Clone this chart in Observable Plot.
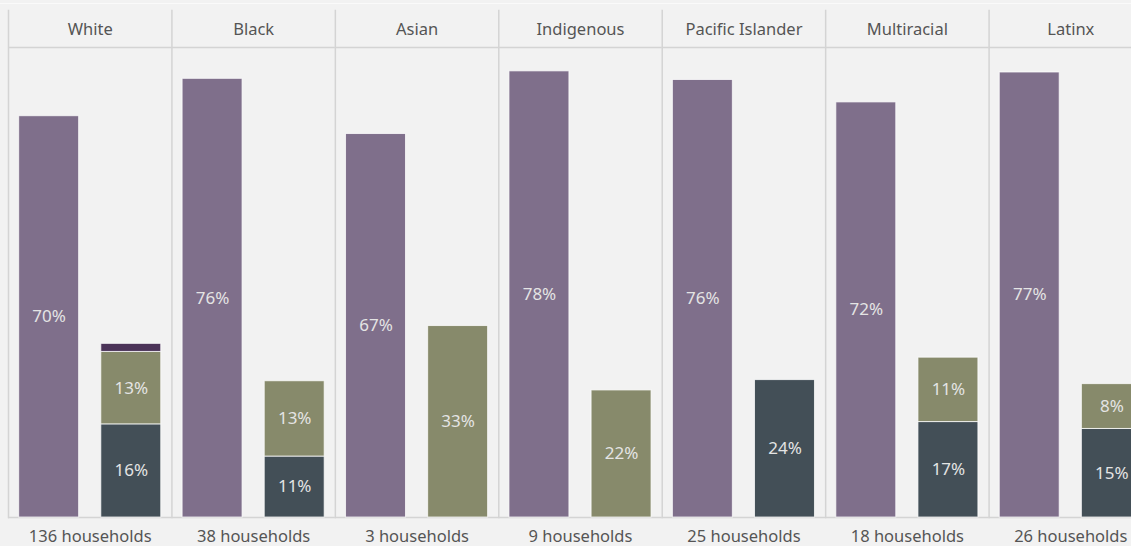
<!DOCTYPE html>
<html>
<head>
<meta charset="utf-8">
<script src="https://cdn.jsdelivr.net/npm/d3@7"></script>
<script src="https://cdn.jsdelivr.net/npm/@observablehq/plot@0.6"></script>
<style>
  html, body { margin: 0; padding: 0; background: #f2f2f2; }
  #wrap { position: relative; width: 1131px; height: 546px; overflow: hidden; background: #f2f2f2; }
  #wrap svg { max-width: none !important; height: 546px !important; display: block; }
  #topline { position: absolute; left: 0; top: 3px; width: 1131px; height: 1px; background: #fafafa; }
</style>
</head>
<body>
<div id="wrap"><div id="topline"></div></div>
<script>
// Categories
const groups = ["White", "Black", "Asian", "Indigenous", "Pacific Islander", "Multiracial", "Latinx"];
const households = [136, 38, 3, 9, 25, 18, 26];
// Series values (percent)
const purpleBar = [69.8, 76.3, 66.7, 77.6, 76.1, 72.2, 77.4];
const slateSeg  = [16.2, 10.6, 0, 0, 23.9, 16.6, 15.4];
const oliveSeg  = [12.6, 13.1, 33.3, 22.1, 0, 11.2, 7.8];
const darkSeg   = [1.4, 0, 0, 0, 0, 0, 0];
const yMax = 81.75;

const rows = [];
groups.forEach((g, i) => {
  rows.push({group: g, bar: "a", cat: "purple", value: purpleBar[i]});
  rows.push({group: g, bar: "b", cat: "slate", value: slateSeg[i]});
  rows.push({group: g, bar: "b", cat: "olive", value: oliveSeg[i]});
  rows.push({group: g, bar: "b", cat: "dark", value: darkSeg[i]});
});
const data = rows.filter(d => d.value > 0);

const chart = Plot.plot({
  width: 1152,
  height: 546,
  marginTop: 47,
  marginBottom: 29,
  marginLeft: 8,
  marginRight: 0,
  style: {background: "transparent", fontFamily: "'Noto Sans', sans-serif", fontSize: "16px", overflow: "visible", maxWidth: "none"},
  fx: {domain: groups, padding: 0, round: false, axis: null, label: null},
  x: {domain: ["a", "b"], paddingInner: 0.27, paddingOuter: 0.13, round: false, axis: null, label: null},
  y: {domain: [0, yMax], axis: null, label: null},
  color: {domain: ["purple", "slate", "olive", "dark"], range: ["#7f6f8b", "#434f57", "#878a6b", "#4b3358"]},
  marks: [
    Plot.frame({anchor: "left", stroke: "#d4d4d4", strokeWidth: 1.5, insetTop: -37}),
    Plot.ruleY([0], {stroke: "#d4d4d4", strokeWidth: 1.5}),
    Plot.ruleY([yMax], {stroke: "#d4d4d4", strokeWidth: 1.5}),
    Plot.barY(data, Plot.stackY({fx: "group", x: "bar", y: "value", z: "cat", fill: "cat", stroke: "#ffffff", strokeOpacity: 0.75, strokeWidth: 1})),
    Plot.text(data, Plot.stackY({fx: "group", x: "bar", y: "value", z: "cat",
      text: d => d.value >= 3 ? Math.round(d.value) + "%" : "",
      fill: "#e4e4e4", fontSize: 17})),
    Plot.text(groups, {fx: d => d, text: d => d, frameAnchor: "top", lineAnchor: "middle", dy: -18, fill: "#555555", fontSize: 16.5}),
    Plot.text(groups, {fx: d => d, text: (d, i) => households[i] + " households", frameAnchor: "bottom", lineAnchor: "middle", dy: 19, fill: "#555555", fontSize: 16.5})
  ]
});
document.getElementById("wrap").appendChild(chart);
</script>
</body>
</html>
